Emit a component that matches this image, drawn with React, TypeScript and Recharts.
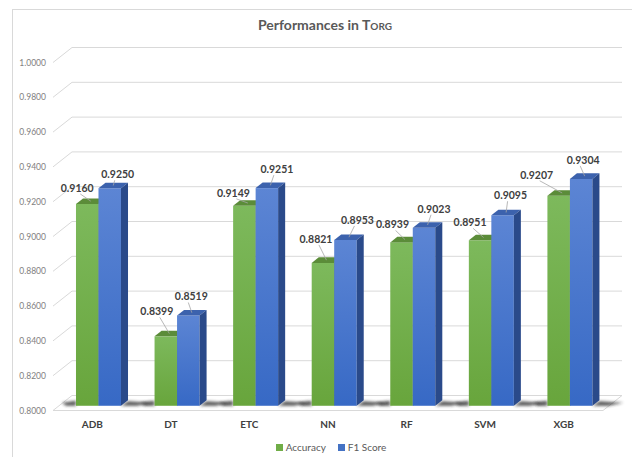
import React from 'react';
import { BarChart, Bar, XAxis, YAxis, CartesianGrid, LabelList } from 'recharts';

// ---- data ----
const MODELS = ['ADB', 'DT', 'ETC', 'NN', 'RF', 'SVM', 'XGB'];
const ACCURACY = [0.916, 0.8399, 0.9149, 0.8821, 0.8939, 0.8951, 0.9207];
const F1_SCORE = [0.925, 0.8519, 0.9251, 0.8953, 0.9023, 0.9095, 0.9304];
const Y_TICKS = [0.8, 0.82, 0.84, 0.86, 0.88, 0.9, 0.92, 0.94, 0.96, 0.98, 1.0];
const SERIES_NAMES = ['Accuracy', 'F1 Score'];

// ---- label placement (px offsets from the top-front centre of each bar) ----
const ACC_LABEL_OFFSETS = [
  [-10, -16], [-9, -25], [-11, -13], [-7, -24], [-9, -18], [-10, -18], [-22, -21],
];
const F1_LABEL_OFFSETS = [
  [8, -14], [3, -19], [10, -19], [12, -20], [10, -19], [8, -20], [2, -19],
];

// ---- layout / style ----
const W = 632;
const H = 457;
const MARGIN = { top: 62.5, right: 29, left: 8, bottom: 16.5 };
const Y_AXIS_W = 45;
const X_AXIS_H = 30;
const FLOOR_Y = H - MARGIN.bottom - X_AXIS_H;
const FONT = 'Lato, "Open Sans", "DejaVu Sans", sans-serif';

// depth of the 3D box (front plane -> back wall)
const DEPTH = { x: 19, y: -15 };
// bars sit in the middle of the depth
const BAR_FRONT = { x: DEPTH.x * 0.315, y: DEPTH.y * 0.315 };
const BAR_DEPTH = { x: DEPTH.x * 0.37, y: DEPTH.y * 0.37 };

const GRID = '#d9d9d9';
const TONES: Record<string, { front: [string, string]; top: string; side: string; key: string }> = {
  acc: { front: ['#7db95c', '#68a53c'], top: '#5b8c39', side: '#4e7a30', key: '#70ad47' },
  f1: { front: ['#5c85d4', '#3769c5'], top: '#3c62ad', side: '#2a4a8a', key: '#4472c4' },
};

const data = MODELS.map((m, i) => ({ model: m, accuracy: ACCURACY[i], f1: F1_SCORE[i] }));

function GridLine(props: any) {
  const { x1, x2, y1 } = props;
  if (Math.abs(y1 - FLOOR_Y) < 0.5) {
    // floor plate
    const pts = `${x1},${y1} ${x1 + DEPTH.x},${y1 + DEPTH.y} ${x2 + DEPTH.x},${y1 + DEPTH.y} ${x2},${y1}`;
    return (
      <g>
        <polygon points={pts} fill="#ffffff" stroke={GRID} strokeWidth={1} />
      </g>
    );
  }
  const d = `M${x1},${y1} L${x1 + DEPTH.x},${y1 + DEPTH.y} L${x2 + DEPTH.x},${y1 + DEPTH.y}`;
  return <path d={d} fill="none" stroke={GRID} strokeWidth={1} />;
}

function Bar3D(props: any) {
  const { x, y, width, height, tone, index } = props;
  if (width == null || height == null) return null;
  const t = TONES[tone];
  const fx = x + BAR_FRONT.x;
  const fy = y + BAR_FRONT.y;
  const bottom = fy + height;
  const dx = BAR_DEPTH.x;
  const dy = BAR_DEPTH.y;
  const gid = `front-${tone}`;
  const top = `${fx},${fy} ${fx + dx},${fy + dy} ${fx + width + dx},${fy + dy} ${fx + width},${fy}`;
  const side = `${fx + width},${fy} ${fx + width + dx},${fy + dy} ${fx + width + dx},${bottom + dy} ${fx + width},${bottom}`;
  const shadow =
    tone === 'acc'
      ? `${fx - 14},${bottom - 3} ${fx},${bottom - 5} ${fx},${bottom} ${fx - 10},${bottom}`
      : `${fx + width + dx},${bottom + dy + 1} ${fx + width + dx + 24},${bottom - 3} ${fx + width + 16},${bottom} ${fx + width},${bottom}`;
  return (
    <g>
      {index === 0 && (
        <defs>
          <linearGradient id={gid} x1="0" y1="0" x2="0" y2="1">
            <stop offset="0%" stopColor={t.front[0]} />
            <stop offset="100%" stopColor={t.front[1]} />
          </linearGradient>
          <filter id={`soft-${tone}`} x="-50%" y="-200%" width="200%" height="500%">
            <feGaussianBlur stdDeviation="1.6" />
          </filter>
        </defs>
      )}
      <polygon points={shadow} fill="#202020" opacity={0.75} filter={`url(#soft-${tone})`} />
      <rect x={fx} y={fy} width={width} height={height} fill={`url(#${gid})`} />
      <polygon points={top} fill={t.top} />
      <polygon points={side} fill={t.side} />
    </g>
  );
}

function makeValueLabel(offsets: number[][]) {
  return function ValueLabel(props: any) {
    const vb = props.viewBox || props;
    const x = vb.x ?? props.x;
    const y = vb.y ?? props.y;
    const width = vb.width ?? props.width;
    const { value, index } = props;
    if (x == null || y == null || value == null) return null;
    const [ox, oy] = offsets[index] || [0, -16];
    const cx = x + width / 2 + BAR_FRONT.x;
    const cy = y + BAR_FRONT.y;
    const lx = cx + ox;
    const ly = cy + oy;
    // leader line to the middle of the top face
    const tx = cx + BAR_DEPTH.x / 2;
    const ty = cy + BAR_DEPTH.y / 2;
    const sy = ly + 6;
    const dist = Math.hypot(tx - lx, ty - sy);
    return (
      <g>
        {dist > 5 && <line x1={lx + (ox < 0 ? 3 : -3)} y1={sy} x2={tx} y2={ty} stroke="#a6a6a6" strokeWidth={0.8} />}
        <text
          x={lx}
          y={ly}
          textAnchor="middle"
          dominantBaseline="central"
          fontFamily={FONT}
          fontWeight={700}
          fontSize={10.5}
          fill="#404040"
        >
          {Number(value).toFixed(4)}
        </text>
      </g>
    );
  };
}

const AccLabel = makeValueLabel(ACC_LABEL_OFFSETS);
const F1Label = makeValueLabel(F1_LABEL_OFFSETS);

export default function App() {
  return (
    <div
      style={{
        position: 'fixed',
        left: 0,
        top: 0,
        width: W,
        height: H,
        overflow: 'hidden',
        background: '#ffffff',
        fontFamily: FONT,
      }}
    >
      <div
        style={{
          position: 'absolute',
          left: 12,
          top: 9,
          width: W + 40,
          height: H + 40,
          borderLeft: `1px solid ${GRID}`,
          borderTop: `1px solid ${GRID}`,
        }}
      />
      <div
        style={{
          position: 'absolute',
          left: 0,
          top: 16,
          width: 650,
          textAlign: 'center',
          fontSize: 14,
          fontWeight: 700,
          color: '#595959',
          lineHeight: '18px',
        }}
      >
        Performances in T<span style={{ fontSize: 10 }}>ORG</span>
      </div>
      <div style={{ position: 'absolute', left: 0, top: 0 }}>
        <BarChart width={W} height={H} data={data} margin={MARGIN} barGap={0} barSize={22.5}>
          <CartesianGrid vertical={false} horizontal={(p: any) => <GridLine {...p} />} />
          <YAxis
            domain={[0.8, 1.0]}
            ticks={Y_TICKS}
            interval={0}
            width={Y_AXIS_W}
            axisLine={false}
            tickLine={false}
            tickSize={0}
            tickMargin={7}
            tickFormatter={(v: number) => v.toFixed(4)}
            tick={{ fontSize: 8.5, fill: '#7f7f7f', fontFamily: FONT }}
          />
          <XAxis
            dataKey="model"
            height={X_AXIS_H}
            axisLine={false}
            tickLine={false}
            tickSize={0}
            tickMargin={10}
            interval={0}
            tick={{ fontSize: 10, fontWeight: 700, fill: '#404040', fontFamily: FONT }}
          />
          <Bar dataKey="accuracy" name={SERIES_NAMES[0]} isAnimationActive={false} shape={(p: any) => <Bar3D {...p} tone="acc" />}>
            <LabelList dataKey="accuracy" content={(p: any) => <AccLabel {...p} />} />
          </Bar>
          <Bar dataKey="f1" name={SERIES_NAMES[1]} isAnimationActive={false} shape={(p: any) => <Bar3D {...p} tone="f1" />}>
            <LabelList dataKey="f1" content={(p: any) => <F1Label {...p} />} />
          </Bar>
        </BarChart>
      </div>
      <div
        style={{
          position: 'absolute',
          left: 0,
          top: 441,
          width: 662,
          display: 'flex',
          justifyContent: 'center',
          gap: 12,
          fontSize: 10,
          color: '#595959',
          lineHeight: '12px',
        }}
      >
        {SERIES_NAMES.map((name, i) => (
          <span key={name} style={{ display: 'flex', alignItems: 'center' }}>
            <span
              style={{
                display: 'inline-block',
                width: 7,
                height: 7,
                marginRight: 3,
                background: i === 0 ? TONES.acc.key : TONES.f1.key,
              }}
            />
            {name}
          </span>
        ))}
      </div>
    </div>
  );
}
